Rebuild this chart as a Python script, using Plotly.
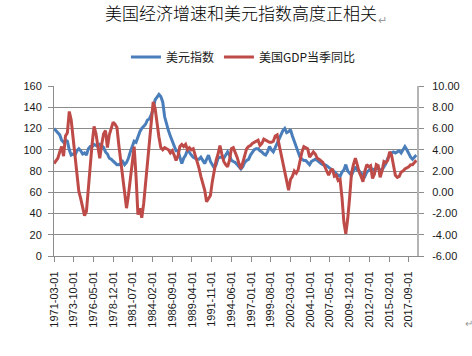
import pandas as pd
import plotly.graph_objects as go

# ---------------- data (quarterly readings from the picture) ----------------
start_date = "1971-03-01"

usd_index = [120, 118, 116, 114, 109, 107, 109, 108, 100, 95,
             96, 95, 99, 101, 99, 96, 97, 95, 101, 103,
             103, 105, 104, 103, 105, 104, 102, 98, 96, 92,
             91, 89, 88, 86, 86, 87, 89, 86, 88, 92,
             98, 103, 108, 107, 112, 117, 120, 122, 124, 128,
             129, 133, 138, 147, 150, 152, 150, 145, 131, 124,
             118, 113, 108, 104, 99, 99, 92, 87, 92, 95,
             100, 97, 95, 93, 92, 91, 91, 93, 90, 87,
             91, 95, 89, 86, 83, 86, 92, 93, 93, 92,
             95, 98, 95, 90, 89, 88, 86, 84, 82, 84,
             88, 90, 91, 95, 98, 100, 101, 101, 99, 98,
             96, 95, 98, 103, 100, 98, 102, 106, 110, 115,
             118, 120, 116, 117, 119, 113, 108, 103, 100, 93,
             91, 90, 90, 88, 86, 89, 90, 91, 90, 88,
             87, 86, 86, 85, 83, 82, 81, 79, 78, 76,
             75, 79, 81, 86, 80, 78, 76, 80, 84, 81,
             80, 78, 76, 75, 79, 81, 82, 82, 81, 82,
             83, 81, 81, 84, 87, 92, 95, 97, 98, 97,
             98, 99, 97, 100, 103, 100, 96, 93, 91, 93,
             95]

gdp_yoy = [2.7, 3.0, 3.2, 3.8, 4.3, 3.4, 5.3, 5.6, 7.6, 6.8,
           5.0, 3.5, 1.2, 0.1, -0.6, -1.3, -2.2, -1.8, 0.6, 2.3,
           4.6, 6.2, 5.5, 4.3, 3.2, 4.5, 5.5, 5.8, 4.2, 5.4,
           6.0, 6.6, 6.4, 6.1, 4.4, 3.0, 1.1, -0.2, -1.5, -0.3,
           1.2, 2.8, 4.3, 1.5, -2.1, -1.5, -2.4, -1.1, 0.9, 2.8,
           4.8, 6.7, 8.5, 7.9, 6.4, 5.2, 4.2, 4.0, 4.2, 4.1,
           4.0, 3.7, 3.9, 3.5, 3.0, 3.4, 4.3, 4.5, 4.3, 4.5,
           4.0, 4.2, 4.0, 4.1, 3.5, 3.0, 2.3, 1.5, 0.8, 0.2,
           -0.9, -0.6, -0.3, 1.0, 2.2, 3.0, 3.6, 4.4, 3.6, 2.9,
           2.6, 2.4, 3.0, 4.1, 4.2, 3.8, 3.3, 2.7, 2.2, 2.8,
           3.6, 4.1, 4.3, 4.4, 4.6, 4.7, 4.8, 4.9, 4.4, 4.6,
           5.0, 4.9, 4.8, 4.7, 4.7, 4.8, 5.3, 5.4, 4.5, 3.6,
           2.8, 1.8, 0.8, 0.2, 1.2, 1.5, 2.0, 1.8, 2.1, 3.0,
           3.8, 4.3, 4.2, 4.1, 3.3, 3.5, 3.8, 3.6, 3.2, 3.1,
           2.9, 2.8, 2.4, 2.0, 1.6, 2.0, 2.2, 1.5, 1.6, 1.1,
           1.2, -0.5, -2.8, -3.9, -2.5, -0.5, 1.8, 2.6, 3.2, 2.6,
           1.9, 1.5, 1.0, 2.0, 2.6, 2.4, 2.5, 1.3, 1.7, 2.6,
           2.5, 1.4, 2.0, 2.9, 2.8, 3.0, 3.8, 3.5, 2.4, 1.6,
           1.4, 1.5, 1.9, 2.0, 2.2, 2.3, 2.4, 2.6, 2.6, 2.8,
           3.0]

x_tick_labels = ["1971-03-01", "1973-10-01", "1976-05-01", "1978-12-01",
                 "1981-07-01", "1984-02-01", "1986-09-01", "1989-04-01",
                 "1991-11-01", "1994-06-01", "1997-01-01", "1999-08-01",
                 "2002-03-01", "2004-10-01", "2007-05-01", "2009-12-01",
                 "2012-07-01", "2015-02-01", "2017-09-01"]
left_ticks = [0, 20, 40, 60, 80, 100, 120, 140, 160]
right_ticks = [-6, -4, -2, 0, 2, 4, 6, 8, 10]
right_tick_text = ["-6.00", "-4.00", "-2.00", "0.00", "2.00", "4.00", "6.00", "8.00", "10.00"]

title_text = "美国经济增速和美元指数高度正相关"
name_usd = "美元指数"
name_gdp = "美国GDP当季同比"

dates = pd.date_range(start_date, periods=len(usd_index), freq="3MS")

# ---------------- figure ----------------
W, H = 472, 356
L, R, T, B = 54, 52, 86, 100
pw, ph = W - L - R, H - T - B

def px_x(x):
    return (x - L) / pw

def px_y(y):
    return (H - B - y) / ph

BLUE = "#4a7ebb"
RED = "#be4b48"
GRID = "#8c8c8c"
TXT = "#1a1a1a"
FONT = "Liberation Sans, Arial, sans-serif"
CJK = "Noto Sans CJK SC, sans-serif"

fig = go.Figure()
fig.add_trace(go.Scatter(x=dates, y=usd_index, name=name_usd, mode="lines",
                         line=dict(color=BLUE, width=3), yaxis="y"))
fig.add_trace(go.Scatter(x=dates, y=gdp_yoy, name=name_gdp, mode="lines",
                         line=dict(color=RED, width=3), yaxis="y2"))

fig.update_layout(
    width=W, height=H,
    margin=dict(l=L, r=R, t=T, b=B, pad=0),
    paper_bgcolor="white", plot_bgcolor="white",
    title=dict(text=title_text, x=241 / W, xref="container",
               xanchor="center", y=1 - 14 / H, yanchor="middle",
               font=dict(family=CJK, size=17, color="#000000", weight=300)),
    showlegend=True,
    legend=dict(orientation="h", x=px_x(245), xanchor="center",
                y=px_y(57), yanchor="middle",
                font=dict(family=CJK, size=12, color=TXT),
                bgcolor="rgba(0,0,0,0)", itemwidth=30,
                tracegroupgap=0),
    xaxis=dict(type="date", range=["1971-03-01", "2018-10-01"],
               tickmode="array", tickvals=x_tick_labels, ticktext=x_tick_labels,
               tickangle=-90, ticks="outside", ticklen=5, tickcolor=GRID,
               showline=True, linecolor=GRID, linewidth=1,
               showgrid=False, zeroline=False,
               tickfont=dict(family=FONT, size=11, color=TXT),
               ticklabelstandoff=5),
    yaxis=dict(range=[0, 160], tickmode="array", tickvals=left_ticks,
               ticks="outside", ticklen=5, tickcolor=GRID,
               showline=True, linecolor=GRID, linewidth=1,
               showgrid=True, gridcolor=GRID, gridwidth=1, zeroline=False,
               tickfont=dict(family=FONT, size=11, color=TXT),
               ticklabelstandoff=4),
    yaxis2=dict(range=[-6, 10], tickmode="array", tickvals=right_ticks,
                ticktext=right_tick_text, overlaying="y", side="right",
                ticks="outside", ticklen=5, tickcolor=GRID,
                showline=True, linecolor="#b4b4b4", linewidth=2,
                showgrid=False, zeroline=False,
                tickfont=dict(family=FONT, size=11, color=TXT),
                ticklabelstandoff=6),
)

fig.add_annotation(text="↵", xref="paper", yref="paper", x=px_x(379), y=px_y(12),
                   xanchor="left", showarrow=False,
                   font=dict(family=FONT, size=11, color="#9a9a9a"))
fig.add_annotation(text="↵", xref="paper", yref="paper", x=px_x(466), y=px_y(331),
                   xanchor="left", showarrow=False,
                   font=dict(family=FONT, size=10, color="#9a9a9a"))

fig.write_html("out.html", config={"displayModeBar": False},
               post_script="document.body.style.margin='0';document.body.style.padding='0';")
